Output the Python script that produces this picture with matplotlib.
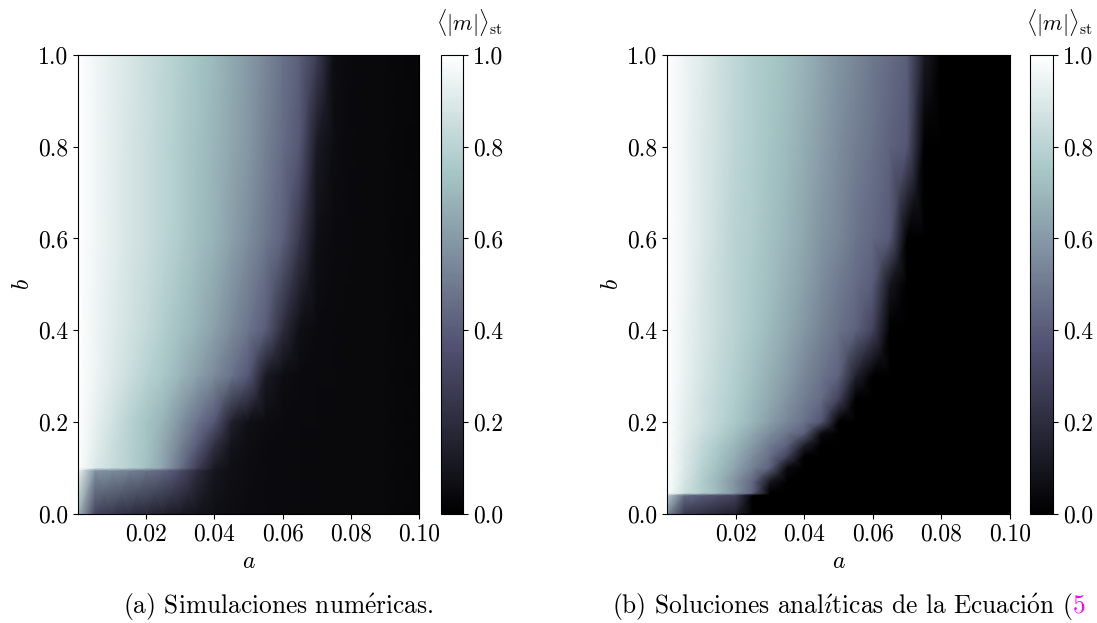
import numpy as np
import matplotlib
matplotlib.use("Agg")
import matplotlib.pyplot as plt

plt.rcParams['font.family'] = ['cmr10', 'Liberation Serif']
plt.rcParams['mathtext.fontset'] = 'cm'
plt.rcParams['axes.formatter.use_mathtext'] = False
plt.rcParams['font.size'] = 17

# grid of the parameter a (columns) shared by both maps
a_vals = [0.000, 0.005, 0.010, 0.015, 0.020, 0.025, 0.030, 0.035, 0.040, 0.045, 0.050,
          0.055, 0.060, 0.065, 0.070, 0.075, 0.080, 0.085, 0.090, 0.095, 0.100]

# numerical simulations: <|m|>_st on rows of b
b_sim = [0.0, 0.094, 0.1, 0.15, 0.2, 0.3, 0.4, 0.6, 0.8, 1.0]
m_sim = [
    [0.70, 0.30, 0.25, 0.21, 0.18, 0.15, 0.12, 0.09, 0.07, 0.06, 0.05, 0.05, 0.045, 0.045, 0.04, 0.04, 0.04, 0.04, 0.04, 0.035, 0.03],
    [0.95, 0.58, 0.56, 0.52, 0.48, 0.43, 0.34, 0.20, 0.10, 0.07, 0.055, 0.05, 0.045, 0.045, 0.04, 0.04, 0.04, 0.04, 0.04, 0.035, 0.03],
    [1.00, 0.90, 0.84, 0.79, 0.73, 0.63, 0.47, 0.28, 0.12, 0.07, 0.055, 0.05, 0.045, 0.045, 0.04, 0.04, 0.04, 0.04, 0.04, 0.035, 0.03],
    [1.00, 0.92, 0.85, 0.79, 0.74, 0.65, 0.53, 0.40, 0.22, 0.09, 0.06, 0.05, 0.045, 0.045, 0.04, 0.04, 0.04, 0.04, 0.04, 0.035, 0.03],
    [1.00, 0.93, 0.87, 0.80, 0.74, 0.68, 0.58, 0.48, 0.38, 0.15, 0.07, 0.055, 0.05, 0.045, 0.045, 0.04, 0.04, 0.04, 0.04, 0.035, 0.03],
    [1.00, 0.95, 0.90, 0.85, 0.80, 0.75, 0.69, 0.62, 0.55, 0.47, 0.38, 0.12, 0.06, 0.05, 0.045, 0.045, 0.04, 0.04, 0.04, 0.035, 0.03],
    [1.00, 0.95, 0.91, 0.87, 0.83, 0.78, 0.73, 0.68, 0.62, 0.55, 0.48, 0.40, 0.20, 0.07, 0.05, 0.045, 0.04, 0.04, 0.04, 0.035, 0.03],
    [1.00, 0.96, 0.92, 0.88, 0.85, 0.81, 0.77, 0.72, 0.68, 0.62, 0.56, 0.49, 0.42, 0.25, 0.07, 0.05, 0.045, 0.04, 0.04, 0.035, 0.03],
    [1.00, 0.96, 0.92, 0.88, 0.85, 0.81, 0.77, 0.73, 0.69, 0.64, 0.59, 0.52, 0.45, 0.38, 0.12, 0.055, 0.045, 0.04, 0.04, 0.035, 0.03],
    [1.00, 0.96, 0.92, 0.89, 0.85, 0.82, 0.78, 0.74, 0.70, 0.65, 0.60, 0.54, 0.47, 0.41, 0.28, 0.06, 0.045, 0.04, 0.04, 0.035, 0.03],
]

# analytic solutions: <|m|>_st on rows of b
b_ana = [0.0, 0.04, 0.045, 0.07, 0.1, 0.125, 0.15, 0.175, 0.2, 0.25, 0.3, 0.4, 0.5, 0.6, 0.8, 1.0]
m_ana = [
    [0.55, 0.25, 0.22, 0.18, 0.14, 0.00, 0.00, 0.00, 0.00, 0.00, 0.00, 0.00, 0.00, 0.00, 0.00, 0.00, 0.00, 0.00, 0.00, 0.00, 0.00],
    [0.80, 0.45, 0.40, 0.35, 0.30, 0.00, 0.00, 0.00, 0.00, 0.00, 0.00, 0.00, 0.00, 0.00, 0.00, 0.00, 0.00, 0.00, 0.00, 0.00, 0.00],
    [1.00, 0.86, 0.78, 0.70, 0.58, 0.42, 0.00, 0.00, 0.00, 0.00, 0.00, 0.00, 0.00, 0.00, 0.00, 0.00, 0.00, 0.00, 0.00, 0.00, 0.00],
    [1.00, 0.88, 0.78, 0.69, 0.57, 0.44, 0.10, 0.00, 0.00, 0.00, 0.00, 0.00, 0.00, 0.00, 0.00, 0.00, 0.00, 0.00, 0.00, 0.00, 0.00],
    [1.00, 0.90, 0.80, 0.72, 0.63, 0.52, 0.42, 0.05, 0.00, 0.00, 0.00, 0.00, 0.00, 0.00, 0.00, 0.00, 0.00, 0.00, 0.00, 0.00, 0.00],
    [1.00, 0.90, 0.82, 0.74, 0.66, 0.56, 0.46, 0.30, 0.00, 0.00, 0.00, 0.00, 0.00, 0.00, 0.00, 0.00, 0.00, 0.00, 0.00, 0.00, 0.00],
    [1.00, 0.91, 0.83, 0.76, 0.69, 0.60, 0.50, 0.42, 0.15, 0.00, 0.00, 0.00, 0.00, 0.00, 0.00, 0.00, 0.00, 0.00, 0.00, 0.00, 0.00],
    [1.00, 0.92, 0.85, 0.79, 0.72, 0.64, 0.56, 0.48, 0.41, 0.05, 0.00, 0.00, 0.00, 0.00, 0.00, 0.00, 0.00, 0.00, 0.00, 0.00, 0.00],
    [1.00, 0.92, 0.87, 0.81, 0.75, 0.69, 0.61, 0.54, 0.47, 0.38, 0.00, 0.00, 0.00, 0.00, 0.00, 0.00, 0.00, 0.00, 0.00, 0.00, 0.00],
    [1.00, 0.93, 0.87, 0.82, 0.77, 0.71, 0.65, 0.58, 0.51, 0.45, 0.30, 0.00, 0.00, 0.00, 0.00, 0.00, 0.00, 0.00, 0.00, 0.00, 0.00],
    [1.00, 0.94, 0.88, 0.83, 0.78, 0.73, 0.67, 0.61, 0.54, 0.48, 0.42, 0.15, 0.00, 0.00, 0.00, 0.00, 0.00, 0.00, 0.00, 0.00, 0.00],
    [1.00, 0.94, 0.89, 0.84, 0.80, 0.75, 0.70, 0.65, 0.59, 0.53, 0.47, 0.42, 0.30, 0.00, 0.00, 0.00, 0.00, 0.00, 0.00, 0.00, 0.00],
    [1.00, 0.95, 0.89, 0.84, 0.80, 0.76, 0.72, 0.67, 0.62, 0.56, 0.50, 0.45, 0.40, 0.10, 0.00, 0.00, 0.00, 0.00, 0.00, 0.00, 0.00],
    [1.00, 0.95, 0.90, 0.85, 0.80, 0.77, 0.73, 0.69, 0.64, 0.58, 0.54, 0.48, 0.44, 0.39, 0.00, 0.00, 0.00, 0.00, 0.00, 0.00, 0.00],
    [1.00, 0.95, 0.90, 0.86, 0.81, 0.78, 0.74, 0.71, 0.66, 0.61, 0.56, 0.51, 0.47, 0.42, 0.38, 0.00, 0.00, 0.00, 0.00, 0.00, 0.00],
    [1.00, 0.95, 0.91, 0.86, 0.82, 0.78, 0.75, 0.72, 0.68, 0.63, 0.58, 0.54, 0.49, 0.45, 0.41, 0.12, 0.00, 0.00, 0.00, 0.00, 0.00],
]

x_ticks = [0.02, 0.04, 0.06, 0.08, 0.10]
y_ticks = [0.0, 0.2, 0.4, 0.6, 0.8, 1.0]
# accents typeset with mathtext so they stay in Computer Modern
caption_a = r'(a) Simulaciones num$\acute{\mathrm{e}}$ricas.'
caption_b = r'(b) Soluciones anal$\acute{\imath}$ticas de la Ecuaci$\acute{\mathrm{o}}$n ('

W, H = 1097, 623
fig = plt.figure(figsize=(W / 100, H / 100), dpi=100)


def px_box(x0, x1, top, bottom):
    # pixel box -> figure fraction [left, bottom, width, height]
    return [x0 / W, (H - bottom) / H, (x1 - x0) / W, (bottom - top) / H]


def draw_map(ax, cax, b_vals, m):
    m = np.array(m)
    assert m.shape == (len(b_vals), len(a_vals))
    mesh = ax.pcolormesh(a_vals, b_vals, m, shading='gouraud', cmap='bone', vmin=0, vmax=1)
    ax.set_xlim(0, 0.1)
    ax.set_ylim(0, 1)
    ax.set_xticks(x_ticks)
    ax.set_yticks(y_ticks)
    ax.set_xlabel('$a$')
    ax.set_ylabel('$b$', labelpad=3)
    cbar = fig.colorbar(mesh, cax=cax, ticks=y_ticks)
    cbar.outline.set_linewidth(0.8)
    cax.text(1.3, 1.07, r'$\langle |m| \rangle_{\mathrm{st}}$', transform=cax.transAxes,
             ha='center', va='center', fontsize=16)


ax1 = fig.add_axes(px_box(78, 419, 55, 513.6))
cax1 = fig.add_axes(px_box(441, 463, 55, 513.6))
draw_map(ax1, cax1, b_sim, m_sim)

ax2 = fig.add_axes(px_box(667, 1010, 55, 513.6))
cax2 = fig.add_axes(px_box(1030, 1053, 55, 513.6))
draw_map(ax2, cax2, b_ana, m_ana)

# subfigure captions
y_cap = (H - 614) / H
cap_size = 18.3
fig.text(123 / W, y_cap, caption_a, ha='left', va='baseline', fontsize=cap_size)
cap = fig.text(612 / W, y_cap, caption_b, ha='left', va='baseline', fontsize=cap_size)
fig.canvas.draw()
bb = cap.get_window_extent()
fig.text(bb.x1 / W, y_cap, '5', color='#ff00ff', ha='left', va='baseline', fontsize=cap_size)

fig.savefig('out.png', dpi=100)
